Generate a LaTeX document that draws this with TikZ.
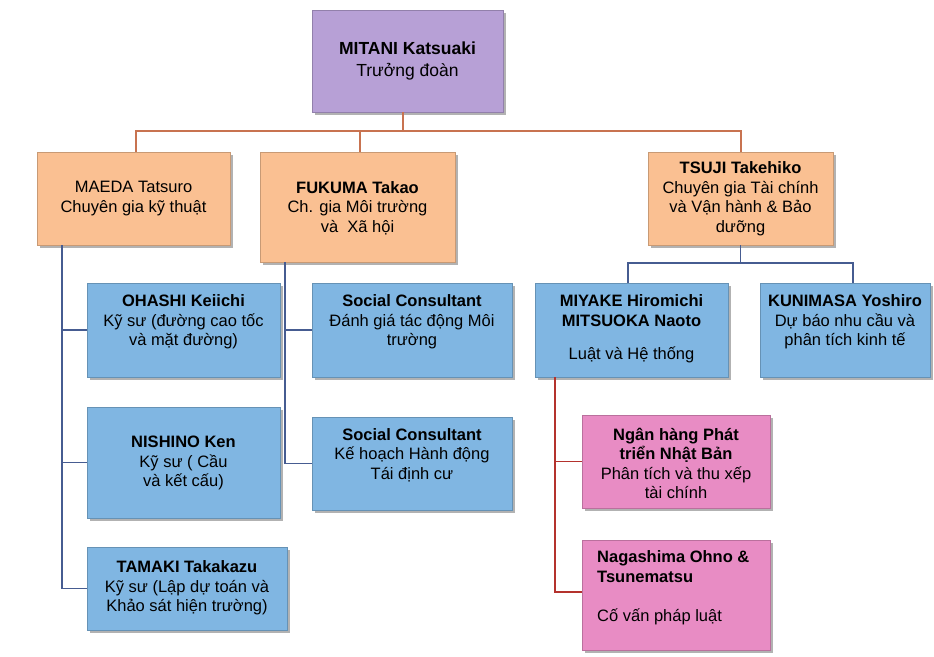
\documentclass[tikz,border=0pt]{standalone}
\usepackage{fontspec}
\setmainfont{Liberation Sans}
\usetikzlibrary{shadows}
\definecolor{cpur}{RGB}{183,160,214}
\definecolor{corg}{RGB}{250,192,146}
\definecolor{cblu}{RGB}{128,182,226}
\definecolor{cpnk}{RGB}{232,140,196}
\definecolor{lorg}{RGB}{200,115,80}
\definecolor{lblu}{RGB}{70,92,145}
\definecolor{lred}{RGB}{180,50,45}
\begin{document}
\begin{tikzpicture}[x=1pt,y=-1pt,
  box/.style={draw=#1!80!black, line width=0.4pt, fill=#1, inner sep=0pt,
    drop shadow={shadow xshift=2.5pt, shadow yshift=-2.5pt, fill=black, opacity=0.3}},
  txt/.style={align=center, inner sep=0pt, font=\fontsize{16.5}{19.5}\selectfont},
  conO/.style={draw=lorg, line width=2.2pt},
  conB/.style={draw=lblu, line width=1.6pt},
  conR/.style={draw=lred, line width=1.6pt}]
\useasboundingbox (0,0) rectangle (934,656);
\fill[white] (0,0) rectangle (934,656);

% boxes
\node[box=cpur, minimum width=191pt, minimum height=102pt] (mitani) at (407.5,61) {};
\node[box=corg, minimum width=193pt, minimum height=93pt] (maeda) at (133.5,198.5) {};
\node[box=corg, minimum width=195pt, minimum height=110pt] (fukuma) at (357.5,207) {};
\node[box=corg, minimum width=185pt, minimum height=93pt] (tsuji) at (740.5,198.5) {};
\node[box=cblu, minimum width=193pt, minimum height=94pt] (ohashi) at (183.5,330) {};
\node[box=cblu, minimum width=193pt, minimum height=111pt] (nishino) at (183.5,462.5) {};
\node[box=cblu, minimum width=200pt, minimum height=83pt] (tamaki) at (187,588.5) {};
\node[box=cblu, minimum width=200pt, minimum height=94pt] (soc1) at (412,330) {};
\node[box=cblu, minimum width=200pt, minimum height=93pt] (soc2) at (412,463.5) {};
\node[box=cblu, minimum width=193pt, minimum height=94pt] (miyake) at (631.5,330) {};
\node[box=cblu, minimum width=170pt, minimum height=94pt] (kunimasa) at (845,330) {};
\node[box=cpnk, minimum width=188pt, minimum height=93pt] (pink1) at (676,461.5) {};
\node[box=cpnk, minimum width=188pt, minimum height=110pt] (pink2) at (676,595) {};

% texts
\node[txt, font=\fontsize{17.5}{21.5}\selectfont] (tmitani) at (407.5,61) {\textbf{MITANI Katsuaki}\\Trưởng đoàn};
\node[txt] (tmaeda) at (133.5,198.5) {MAEDA Tatsuro\\Chuyên gia kỹ thuật};
\node[txt] (tfukuma) at (357.5,208) {\textbf{FUKUMA Takao}\\Ch. gia Môi trường\\và~~Xã hội};
\node[txt] (ttsuji) at (740.5,198.5) {\textbf{TSUJI Takehiko}\\Chuyên gia Tài chính\\và Vận hành \& Bảo\\dưỡng};
\node[txt] (tohashi) at (183.5,322) {\textbf{OHASHI Keiichi}\\Kỹ sư (đường cao tốc\\và mặt đường)};
\node[txt] (tnishino) at (183.5,463) {\textbf{NISHINO Ken}\\Kỹ sư ( Cầu\\và kết cấu)};
\node[txt] (ttamaki) at (187,588) {\textbf{TAMAKI Takakazu}\\Kỹ sư (Lập dự toán và\\Khảo sát hiện trường)};
\node[txt] (tsoc1) at (412,322) {\textbf{Social Consultant}\\Đánh giá tác động Môi\\trường};
\node[txt] (tsoc2) at (412,455) {\textbf{Social Consultant}\\Kế hoạch Hành động\\Tái định cư};
\node[txt] (tmiyake) at (631.5,329) {\textbf{MIYAKE Hiromichi}\\\textbf{MITSUOKA Naoto}\\[14pt]Luật và Hệ thống};
\node[txt] (tkunimasa) at (845,322) {\textbf{KUNIMASA Yoshiro}\\Dự báo nhu cầu và\\phân tích kinh tế};
\node[txt] (tpink1) at (676,463.5) {\textbf{Ngân hàng Phát}\\\textbf{triển Nhật Bản}\\Phân tích và thu xếp\\tài chính};
\node[txt, align=left, anchor=west] (tpink2) at (597,588) {\textbf{Nagashima Ohno \&}\\\textbf{Tsunematsu}\\[20pt]Cố vấn pháp luật};

% top level connectors
\coordinate (bus) at (403,131);
\draw[conO] ([xshift=-4.5pt]mitani.south) -- (bus);
\draw[conO] ([xshift=2.5pt]maeda.north) |- ([xshift=0.5pt]tsuji.north |- bus) -- ([xshift=0.5pt]tsuji.north);
\draw[conO] ([xshift=2.5pt]fukuma.north) -- ([xshift=2.5pt]fukuma.north |- bus);

% TSUJI children
\coordinate (bus2) at (740.5,263);
\draw[conB] (tsuji.south) -- (bus2);
\draw[conB] ([xshift=-3.5pt]miyake.north) |- ([xshift=8pt]kunimasa.north |- bus2) -- ([xshift=8pt]kunimasa.north);

% MAEDA column
\draw[conB] ([xshift=25pt]maeda.south west) |- (tamaki.west);
\draw[conB] ([xshift=25pt]maeda.south west |- ohashi.west) -- (ohashi.west);
\draw[conB] ([xshift=25pt]maeda.south west |- nishino.west) -- (nishino.west);

% FUKUMA column
\draw[conB] ([xshift=25pt]fukuma.south west) |- (soc2.west);
\draw[conB] ([xshift=25pt]fukuma.south west |- soc1.west) -- (soc1.west);

% MIYAKE column
\draw[conR] ([xshift=20pt]miyake.south west) |- ([yshift=3pt]pink2.west);
\draw[conR] ([xshift=20pt]miyake.south west |- pink1.west) -- (pink1.west);
\end{tikzpicture}
\end{document}
